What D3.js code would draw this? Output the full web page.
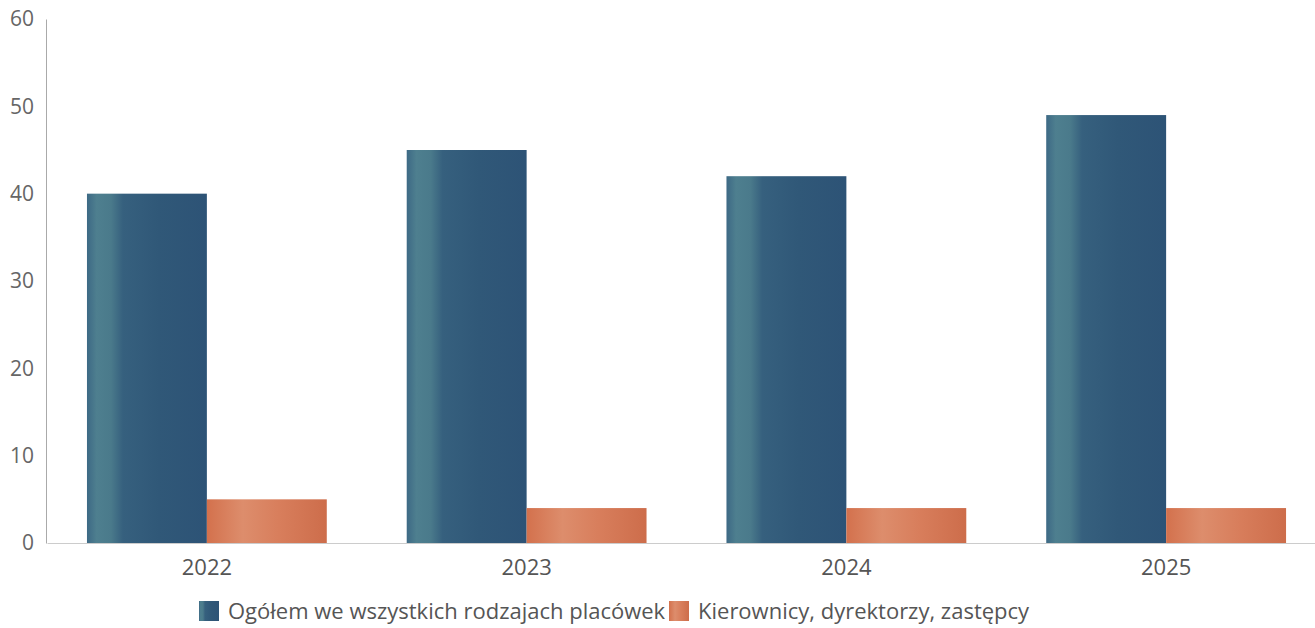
<!DOCTYPE html>
<html><head><meta charset="utf-8">
<script src="https://cdn.jsdelivr.net/npm/d3@7"></script>
<style>
html,body{margin:0;padding:0;background:#fff;}
svg{display:block;font-family:"Open Sans","Noto Sans",sans-serif;}
</style></head>
<body><svg id="c" width="1315" height="628"></svg>
<script>
const categories = ["2022","2023","2024","2025"];
const seriesNames = ["Ogółem we wszystkich rodzajach placówek","Kierownicy, dyrektorzy, zastępcy"];
const totalValues = [40,45,42,49];
const managerValues = [5,4,4,4];
const yTicks = [0,10,20,30,40,50,60];

const svg = d3.select("#c");
const defs = svg.append("defs");
const gb = defs.append("linearGradient").attr("id","gBlue").attr("x1","0").attr("x2","1").attr("y1","0").attr("y2","0");
[[0,"#3d6985"],[0.08,"#4e7f8f"],[0.2,"#4a7a8b"],[0.3,"#36607e"],[0.6,"#305878"],[1,"#2d5376"]].forEach(s=>gb.append("stop").attr("offset",s[0]).attr("stop-color",s[1]));
const go = defs.append("linearGradient").attr("id","gOrange").attr("x1","0").attr("x2","1").attr("y1","0").attr("y2","0");
[[0,"#d3714d"],[0.3,"#dd8d6c"],[0.6,"#d87e5c"],[1,"#cd6d4b"]].forEach(s=>go.append("stop").attr("offset",s[0]).attr("stop-color",s[1]));

const y = d3.scaleLinear().domain([0,60]).range([543,19]);
const x = d3.scaleBand().domain(categories).range([47,1326]).paddingInner(0).paddingOuter(0);
const inner = d3.scaleBand().domain([0,1]).range([0,x.bandwidth()]).paddingOuter(1/3).paddingInner(0);

// axes
const yAxis = svg.append("g").attr("transform","translate(46,0)")
  .call(d3.axisLeft(y).tickValues(yTicks).tickSize(0).tickPadding(12));
yAxis.select(".domain").attr("stroke","#aaa").attr("stroke-width",1);
yAxis.selectAll("text").attr("font-size",21).attr("fill","#666").attr("font-family","Open Sans, Noto Sans, sans-serif");

const data = categories.map((c,i)=>({c, v:[totalValues[i],managerValues[i]]}));
const g = svg.append("g");
data.forEach(d=>{
  d.v.forEach((v,k)=>{
    g.append("rect")
      .attr("x", x(d.c)+inner(k))
      .attr("width", inner.bandwidth())
      .attr("y", y(v))
      .attr("height", y(0)-y(v))
      .attr("fill", k===0?"url(#gBlue)":"url(#gOrange)");
  });
});

const xAxis = svg.append("g").attr("transform","translate(0,543)")
  .call(d3.axisBottom(x).tickSize(0).tickPadding(16));
xAxis.select(".domain").attr("stroke","#ccc").attr("stroke-width",1);
xAxis.selectAll("text").attr("font-size",22).attr("fill","#555").attr("font-family","Open Sans, Noto Sans, sans-serif");

// legend
const legend = svg.append("g").attr("transform","translate(199,601)");
const lx = [0,470];
seriesNames.forEach((n,i)=>{
  legend.append("rect").attr("x",lx[i]).attr("y",0).attr("width",20).attr("height",20)
    .attr("fill", i===0?"url(#gBlue)":"url(#gOrange)");
  legend.append("text").attr("x",lx[i]+29).attr("y",18).attr("font-size",22).attr("fill","#555").text(n);
});
</script></body></html>
